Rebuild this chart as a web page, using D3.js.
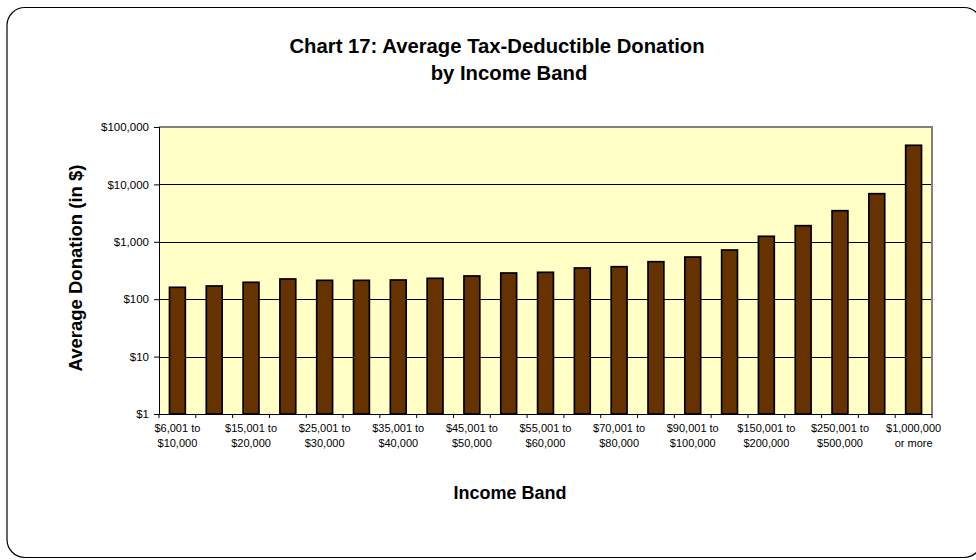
<!DOCTYPE html>
<html>
<head>
<meta charset="utf-8">
<script src="https://cdn.jsdelivr.net/npm/d3@7"></script>
<style>
  html, body { margin: 0; padding: 0; background: #ffffff; }
  svg { display: block; font-family: "Liberation Sans", Arial, sans-serif; }
</style>
</head>
<body>
<svg id="chart" width="976" height="560"></svg>
<script>
// ---- data ----
const categoryLine1 = ["$6,001 to", "$10,001 to", "$15,001 to", "$20,001 to", "$25,001 to", "$30,001 to", "$35,001 to",
  "$40,001 to", "$45,001 to", "$50,001 to", "$55,001 to", "$60,001 to", "$70,001 to", "$80,001 to",
  "$90,001 to", "$100,001 to", "$150,001 to", "$200,001 to", "$250,001 to", "$500,001 to", "$1,000,000"];
const categoryLine2 = ["$10,000", "$15,000", "$20,000", "$25,000", "$30,000", "$35,000", "$40,000",
  "$45,000", "$50,000", "$55,000", "$60,000", "$70,000", "$80,000", "$90,000",
  "$100,000", "$150,000", "$200,000", "$250,000", "$500,000", "$1,000,000", "or more"];
const avgDonation = [161, 170, 197, 225, 213, 213, 216, 231, 254, 286, 294, 350, 368, 450, 543, 720, 1246, 1909, 3480, 6890, 48000];
const yTickValues = [1, 10, 100, 1000, 10000, 100000];
const titleLines = ["Chart 17: Average Tax-Deductible Donation", "by Income Band"];
const xAxisTitle = "Income Band";
const yAxisTitle = "Average Donation (in $)";

// ---- layout ----
const svg = d3.select("#chart");
const plot = { left: 159, right: 932, top: 127, bottom: 414 };

// outer rounded frame
svg.append("rect")
  .attr("x", 7).attr("y", 7.5).attr("width", 975).attr("height", 550)
  .attr("rx", 18).attr("ry", 18)
  .attr("fill", "#ffffff").attr("stroke", "#000").attr("stroke-width", 1.2);

const idx = d3.range(avgDonation.length);
const x = d3.scaleBand().domain(idx).range([plot.left, plot.right]).padding(0);
const y = d3.scaleLog().domain([1, 100000]).range([plot.bottom, plot.top]);

// plot background
svg.append("rect")
  .attr("x", plot.left).attr("y", plot.top)
  .attr("width", plot.right - plot.left).attr("height", plot.bottom - plot.top)
  .attr("fill", "#FFFFC6");

// gridlines
svg.append("g").selectAll("line").data(yTickValues.filter(v => v > 1 && v < 100000)).join("line")
  .attr("x1", plot.left).attr("x2", plot.right)
  .attr("y1", d => Math.round(y(d)) + 0.5).attr("y2", d => Math.round(y(d)) + 0.5)
  .attr("stroke", "#000").attr("stroke-width", 1);

// plot border (gray top/right)
svg.append("path")
  .attr("d", `M${plot.left},${plot.top} H${plot.right} V${plot.bottom}`)
  .attr("fill", "none").attr("stroke", "#808080").attr("stroke-width", 2);

// bars
const barW = x.bandwidth() * 0.43;
svg.append("g").selectAll("rect").data(idx).join("rect")
  .attr("x", d => x(d) + (x.bandwidth() - barW) / 2)
  .attr("y", d => y(avgDonation[d]))
  .attr("width", barW)
  .attr("height", d => plot.bottom - y(avgDonation[d]))
  .attr("fill", "#663300")
  .attr("stroke", "#000").attr("stroke-width", 1.7);

// y axis
const yAxis = d3.axisLeft(y).tickValues(yTickValues)
  .tickFormat(d => "$" + d3.format(",")(d)).tickSize(5).tickPadding(5);
const gy = svg.append("g").attr("transform", `translate(${plot.left},0)`).call(yAxis);
gy.select(".domain").attr("stroke", "#000");
gy.selectAll(".tick line").attr("stroke", "#000");
gy.selectAll(".tick text").attr("font-family", "Liberation Sans, Arial, sans-serif")
  .attr("font-size", 11.5).attr("fill", "#000");

// x axis: line + ticks at band boundaries
const gx = svg.append("g");
gx.append("line").attr("x1", plot.left).attr("x2", plot.right)
  .attr("y1", plot.bottom + 0.5).attr("y2", plot.bottom + 0.5).attr("stroke", "#000");
gx.selectAll("line.tk").data(d3.range(avgDonation.length + 1)).join("line").attr("class", "tk")
  .attr("x1", d => (d < avgDonation.length ? x(d) : plot.right))
  .attr("x2", d => (d < avgDonation.length ? x(d) : plot.right))
  .attr("y1", plot.bottom).attr("y2", plot.bottom + 4)
  .attr("stroke", "#000");
const labelIdx = idx.filter(i => i % 2 === 0);
const xl = gx.selectAll("text.xl").data(labelIdx).join("text").attr("class", "xl")
  .attr("x", d => x(d) + x.bandwidth() / 2)
  .attr("text-anchor", "middle").attr("font-size", 11).attr("fill", "#000");
xl.append("tspan").attr("x", d => x(d) + x.bandwidth() / 2).attr("y", 432).text(d => categoryLine1[d]);
xl.append("tspan").attr("x", d => x(d) + x.bandwidth() / 2).attr("y", 447).text(d => categoryLine2[d]);

// titles
svg.append("text").attr("x", 497).attr("y", 53).attr("text-anchor", "middle")
  .attr("font-size", 20.3).attr("font-weight", "bold").text(titleLines[0]);
svg.append("text").attr("x", 509).attr("y", 80).attr("text-anchor", "middle")
  .attr("font-size", 20.3).attr("font-weight", "bold").text(titleLines[1]);

svg.append("text").attr("x", 510).attr("y", 499).attr("text-anchor", "middle")
  .attr("font-size", 18).attr("font-weight", "bold").text(xAxisTitle);

svg.append("text").attr("transform", "translate(82,268) rotate(-90)").attr("text-anchor", "middle")
  .attr("font-size", 18.5).attr("font-weight", "bold").text(yAxisTitle);
</script>
</body>
</html>
